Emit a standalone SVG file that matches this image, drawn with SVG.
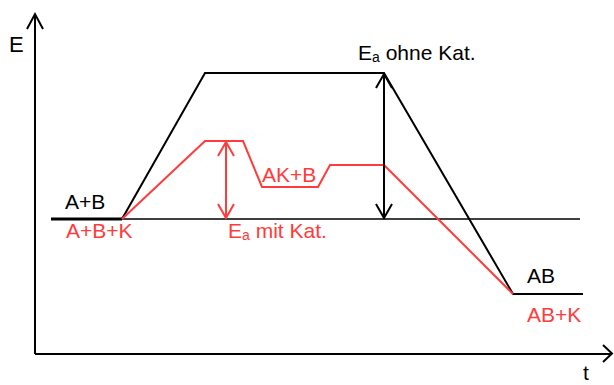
<svg xmlns="http://www.w3.org/2000/svg" width="614" height="385" viewBox="0 0 614 385">
<style>
text{font-family:"Liberation Sans",Arial,sans-serif;font-size:21px}
.k{fill:#000}.r{fill:#ff3b3b}
.sub{font-size:14px}
.ax{stroke:#000;stroke-width:2;fill:none}
.bl{stroke:#000;stroke-width:2;fill:none;stroke-linejoin:miter}
.rl{stroke:#ff3b3b;stroke-width:2;fill:none}
</style>
<rect width="614" height="385" fill="#fff"/>
<g id="connectors">
<path class="ax" d="M35,354 V14 M27,29 L35,14 L43,29"/>
<path class="ax" d="M35,354 H612 M603,345 L612,353.5 L603,362"/>
<path d="M122,219 H580" stroke="#000" stroke-width="1.3" fill="none"/>
<path d="M51,219 H122" stroke="#000" stroke-width="3" fill="none"/>
<path class="bl" d="M122,219 L205,73 H384 L513,294 H583"/>
<path class="rl" d="M122,219 L205,141 H243 L262,187 H318 L330,165 H384 L513,294"/>
<path class="rl" d="M226,142 V218 M218,156 L226,142 L234,156 M218,204 L226,218 L234,204"/>
<path class="bl" d="M384,74 V218 M376,88 L384,74 L392,88 M376,204 L384,218 L392,204"/>
</g>
<g id="label-E"><text class="k" x="9" y="52" style="font-size:22px">E</text></g>
<g id="label-ea-ohne"><text class="k" x="358" y="60">E<tspan class="sub" dy="2">a</tspan><tspan dy="-2"> ohne Kat.</tspan></text></g>
<g id="label-AB-start"><text class="k" x="65" y="209">A+B</text></g>
<g id="label-ABK-start"><text class="r" x="66" y="238">A+B+K</text></g>
<g id="label-ea-mit"><text class="r" x="228" y="238">E<tspan class="sub" dy="2">a</tspan><tspan dy="-2"> mit Kat.</tspan></text></g>
<g id="label-AKB"><text class="r" x="262" y="182">AK+B</text></g>
<g id="label-AB-end"><text class="k" x="527" y="283">AB</text></g>
<g id="label-ABK-end"><text class="r" x="527" y="322">AB+K</text></g>
<g id="label-t"><text class="k" x="583" y="380">t</text></g>
</svg>
